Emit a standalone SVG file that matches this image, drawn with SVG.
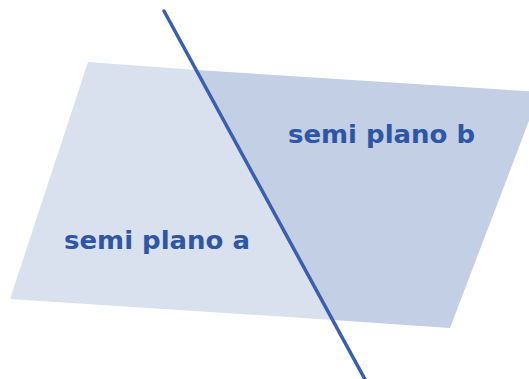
<svg xmlns="http://www.w3.org/2000/svg" width="529" height="379" viewBox="0 0 529 379">
  <style>
    .label { font-family: "DejaVu Sans", "Liberation Sans", sans-serif; font-weight: bold; font-size: 24px; fill: #2f56a3; }
  </style>
  <rect width="529" height="379" fill="#ffffff"/>
  <!-- half-plane a: left of the dividing line -->
  <g id="semi-plano-a">
    <polygon points="88,62 197,70 333,320 10,299" fill="#dae1ee"/>
    <text class="label" x="64" y="249" textLength="186" lengthAdjust="spacingAndGlyphs">semi plano a</text>
  </g>
  <!-- half-plane b: right of the dividing line -->
  <g id="semi-plano-b">
    <polygon points="197,70 540,92 450,328 333,320" fill="#c2cfe4"/>
    <text class="label" x="288" y="143" textLength="187" lengthAdjust="spacingAndGlyphs">semi plano b</text>
  </g>
  <!-- dividing line -->
  <g id="connectors">
    <line x1="164" y1="11" x2="367" y2="383" stroke="#3a5fae" stroke-width="3.5" stroke-linecap="round"/>
  </g>
</svg>
